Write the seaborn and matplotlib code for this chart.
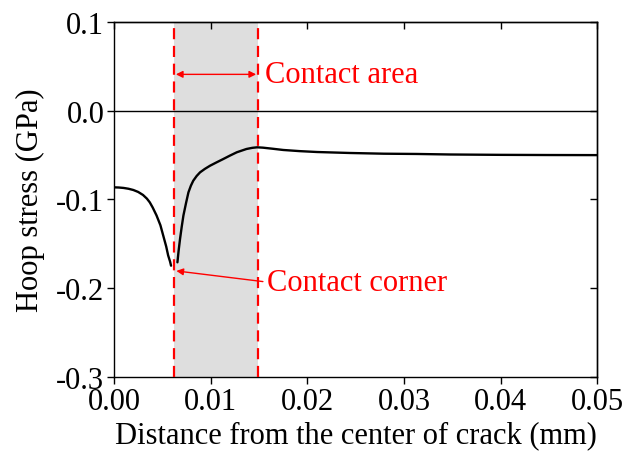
import matplotlib
matplotlib.use("Agg")
import matplotlib.pyplot as plt
import numpy as np
import pandas as pd
import seaborn as sns

# Hoop stress along the crack face (two branches, split at the contact corner)
x_before = [0.0000, 0.0005, 0.0010, 0.0015, 0.0020, 0.0025, 0.0030, 0.0034, 0.0037,
            0.0040, 0.0044, 0.0048, 0.0051, 0.0054, 0.0056, 0.0058, 0.0059]
y_before = [-0.0863, -0.0865, -0.0870, -0.0879, -0.0893, -0.0915, -0.0949, -0.0990, -0.1032,
            -0.1090, -0.1180, -0.1290, -0.1410, -0.1530, -0.1630, -0.1700, -0.1746]
x_after = [0.00656, 0.00668, 0.00683, 0.00700, 0.00718, 0.00745, 0.00770, 0.00795, 0.00820,
           0.00855, 0.00890, 0.00940, 0.00994, 0.01060, 0.01130, 0.01200, 0.01270, 0.01370,
           0.01430, 0.01480, 0.01540, 0.01640, 0.01750, 0.01920, 0.02100, 0.02440, 0.02790,
           0.03130, 0.03480, 0.04000, 0.04500, 0.05000]
y_after = [-0.1708, -0.1580, -0.1445, -0.1310, -0.1180, -0.1040, -0.0919, -0.0845, -0.0788,
           -0.0735, -0.0694, -0.0655, -0.0619, -0.0582, -0.0544, -0.0505, -0.0468, -0.0431,
           -0.0418, -0.0412, -0.0416, -0.0428, -0.0442, -0.0455, -0.0465, -0.0476, -0.0484,
           -0.0487, -0.0493, -0.0497, -0.0499, -0.0500]

contact_start = 0.0062
contact_end = 0.0149
x_ticks = [0.00, 0.01, 0.02, 0.03, 0.04, 0.05]
y_ticks = [-0.3, -0.2, -0.1, 0.0, 0.1]

df = pd.DataFrame({
    "x": x_before + x_after,
    "y": y_before + y_after,
    "branch": ["before"] * len(x_before) + ["after"] * len(x_after),
})

sns.set_theme(style="white")
plt.rcParams["font.family"] = ["Liberation Serif", "DejaVu Serif"]
plt.rcParams["text.color"] = "black"
plt.rcParams["axes.labelcolor"] = "black"

fig = plt.figure(figsize=(6.34, 4.60), dpi=100)
ax = fig.add_axes([0.1798, 0.1783, 0.9424 - 0.1798, 0.95 - 0.1783])

red = "#ff0000"
ax.axvspan(contact_start, contact_end, color="#dedede", lw=0, zorder=0)
ax.axhline(0.0, color="black", lw=1.0, zorder=1)

sns.lineplot(data=df, x="x", y="y", units="branch", estimator=None, color="black",
             lw=1.7, ax=ax, zorder=3, legend=False)

for xv in (contact_start, contact_end):
    ax.axvline(xv, color=red, lw=1.6, ls=(0, (5, 3)), zorder=4)

fs = 22
ax.annotate("", xy=(contact_start + 0.0002, 0.041), xytext=(contact_end - 0.0002, 0.041),
            arrowprops=dict(arrowstyle="<|-|>", color=red, lw=1.0, mutation_scale=10,
                            shrinkA=0, shrinkB=0), zorder=5)
ax.text(0.0156, 0.041, "Contact area", color=red, fontsize=fs, va="center", ha="left")

ax.annotate("", xy=(0.00645, -0.1805), xytext=(0.0154, -0.1925),
            arrowprops=dict(arrowstyle="-|>", color=red, lw=1.0, mutation_scale=10,
                            shrinkA=0, shrinkB=0), zorder=5)
ax.text(0.0158, -0.1935, "Contact corner", color=red, fontsize=fs, va="center", ha="left")

ax.set_xlim(0, 0.05)
ax.set_ylim(-0.3, 0.1)
ax.set_xticks(x_ticks)
ax.set_xticklabels([f"{v:.2f}" for v in x_ticks])
ax.set_yticks(y_ticks)
ax.set_yticklabels([f"{v:.1f}" for v in y_ticks])
ax.tick_params(direction="out", length=5, width=1.0, labelsize=fs, colors="black", pad=2,
               bottom=True, left=True)
ax.set_xlabel("Distance from the center of crack (mm)", fontsize=fs, labelpad=3,
              color="black")
ax.set_ylabel("Hoop stress (GPa)", fontsize=fs, labelpad=8, color="black")

for s in ax.spines.values():
    s.set_visible(True)
    s.set_color("black")
    s.set_linewidth(1.0)

# mirrored inward ticks on the top and right edges
top = ax.secondary_xaxis("top")
top.set_xticks(x_ticks)
top.tick_params(direction="in", length=5, width=1.0, labeltop=False, colors="black")
top.spines["top"].set_linewidth(1.0)
right = ax.secondary_yaxis("right")
right.set_yticks(y_ticks)
right.tick_params(direction="in", length=5, width=1.0, labelright=False, colors="black")
right.spines["right"].set_linewidth(1.0)

fig.savefig("out.png", dpi=100, facecolor="white")
